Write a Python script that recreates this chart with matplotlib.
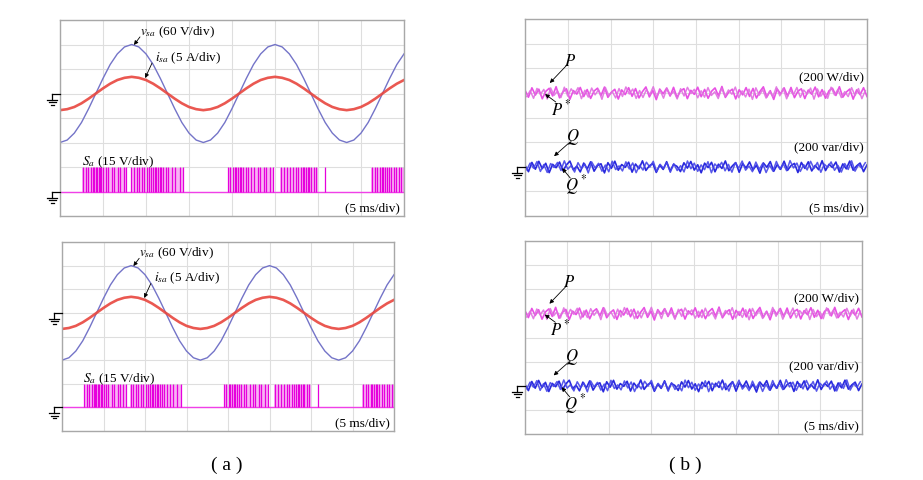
import matplotlib
matplotlib.use('Agg')
import matplotlib.pyplot as plt
import numpy as np
from matplotlib.lines import Line2D

plt.rcParams['font.family'] = ['Liberation Serif', 'DejaVu Serif']
plt.rcParams['mathtext.fontset'] = 'stix'

# ---- data read off the scope screens (time in ms, 5 ms/div) ----
# source voltage (V), 60 V/div, one sample every 5/6 ms
v_sa = [-120, -114, -97, -71, -37, 0, 37, 71, 97, 114,
        120, 114, 97, 71, 37, 0, -37, -71, -97, -114,
        -120, -114, -97, -71, -37, 0, 37, 71, 97, 114,
        120, 114, 97, 71, 37, 0, -37, -71, -97, -114,
        -120, -114, -97, -71, -37, 0, 37, 71, 97]
# source current (A), 5 A/div
i_sa = [-3.4, -3.2, -2.75, -2.0, -1.05, 0, 1.05, 2.0, 2.75, 3.2,
        3.4, 3.2, 2.75, 2.0, 1.05, 0, -1.05, -2.0, -2.75, -3.2,
        -3.4, -3.2, -2.75, -2.0, -1.05, 0, 1.05, 2.0, 2.75, 3.2,
        3.4, 3.2, 2.75, 2.0, 1.05, 0, -1.05, -2.0, -2.75, -3.2,
        -3.4, -3.2, -2.75, -2.0, -1.05, 0, 1.05, 2.0, 2.75]

# switching signal S_a (15 V/div): shaded switching intervals and pulse edges (ms)
sa_level = 15
sa_spans = [(2.6, 7.8), (8.2, 14.3), (19.5, 24.9), (25.6, 30.0), (36.2, 40.0)]
sa_pulses = [2.7, 3.0, 3.3, 3.6, 3.8, 4.0, 4.15, 4.3, 4.5, 4.65, 4.8, 5.0, 5.3,
             5.6, 6.0, 6.3, 6.7, 7.0, 7.4, 7.7, 8.3, 8.6, 8.9, 9.2, 9.5, 9.8,
             10.1, 10.4, 10.6, 10.8, 11.0, 11.2, 11.4, 11.6, 11.8, 12.0, 12.3,
             12.6, 13.0, 13.4, 13.9, 14.3,
             19.5, 19.8, 20.1, 20.3, 20.5, 20.7, 20.9, 21.1, 21.3, 21.6, 21.9,
             22.2, 22.6, 23.0, 23.3, 23.7, 24.0, 24.4, 24.8, 25.7, 26.0, 26.4,
             26.8, 27.1, 27.4, 27.7, 28.0, 28.2, 28.4, 28.6, 28.8, 29.0, 29.2,
             29.5, 29.8, 30.8,
             36.3, 36.6, 36.9, 37.2, 37.4, 37.6, 37.8, 38.0, 38.2, 38.5, 38.8,
             39.1, 39.4, 39.7, 40.0]

# active / reactive power (W, var), 200 per div
p_avg = 600
q_avg = 0
p_meas = [22, -35, 41, -18, 30, -48, 12, 37, -25, 50, -40, 8, 33, -52, 19, -10, 44, -30, 27, -45,
          15, 38, -22, 47, -36, 5, 29, -50, 24, -14, 42, -28, 35, -41, 10, 48, -33, 20, -55, 31,
          -8, 39, -26, 45, -38, 16, 34, -47, 21, -12, 46, -31, 28, -44, 13, 40, -24, 52, -37, 7,
          30, -49, 25, -16, 43, -29, 36, -42, 11, 49, -34, 18, -53, 32, -9, 41, -27, 44, -39, 14,
          33, -46, 23, -11, 47, -32, 26, -43, 17, 38, -21, 50, -35, 6, 31, -51, 24, -15, 42, -30]
p_ref = [-30, 18, -44, 36, -12, 28, -50, 40, -20, 15, -38, 46, -26, 33, -8, 42, -47, 21, -34, 39,
         -16, 25, -52, 44, -23, 11, -41, 35, -29, 48, -9, 31, -45, 19, -37, 27, -14, 50, -32, 22,
         -43, 38, -18, 13, -49, 34, -25, 45, -6, 29, -40, 17, -35, 43, -21, 9, -46, 37, -28, 24,
         -11, 47, -39, 16, -33, 30, -53, 41, -19, 26, -42, 12, -31, 49, -24, 36, -48, 20, -15, 44,
         -36, 23, -10, 39, -51, 32, -27, 14, -44, 46, -17, 28, -38, 10, -30, 42, -22, 35, -47, 18]
q_meas = [12, -40, 35, -20, 44, -15, 28, -48, 20, -8, 38, -33, 15, 46, -25, 5, -42, 30, -18, 40,
          -36, 10, 24, -50, 33, -12, 45, -28, 18, -5, 37, -44, 22, -16, 48, -30, 8, 26, -46, 14,
          -22, 41, -35, 19, 3, -39, 32, -11, 43, -27, 16, -49, 29, -7, 36, -41, 21, -14, 47, -32,
          6, 34, -45, 25, -10, 39, -26, 13, -52, 31, -4, 42, -37, 17, -21, 45, -29, 9, 27, -47,
          35, -13, 40, -34, 11, -24, 49, -31, 20, -6, 38, -43, 23, -17, 46, -28, 7, 30, -40, 15]
q_ref = [-25, 30, -12, 42, -38, 18, -46, 26, -6, 35, -30, 48, -20, 10, -43, 33, -15, 22, -50, 39,
         -9, 28, -36, 14, -41, 45, -23, 7, -34, 40, -18, 31, -48, 12, -27, 37, -3, 44, -39, 20,
         -13, 34, -45, 25, -31, 9, -42, 47, -16, 29, -37, 15, -24, 41, -49, 23, -8, 36, -33, 19,
         -44, 32, -11, 46, -28, 6, -40, 38, -21, 27, -47, 13, -35, 43, -19, 24, -32, 50, -10, 30,
         -38, 17, -26, 44, -14, 35, -45, 21, -5, 39, -29, 11, -43, 26, -22, 48, -36, 16, -12, 33]

W, H = 923, 481
fig = plt.figure(figsize=(W / 100, H / 100), dpi=100)


def add_scope(left, top, right, bottom):
    ax = fig.add_axes([left / W, 1 - bottom / H, (right - left) / W, (bottom - top) / H])
    ax.set_xlim(0, 40)
    ax.set_ylim(0, 8)
    ax.set_xticks(np.arange(0, 41, 5))
    ax.set_yticks(np.arange(0, 9, 1))
    ax.tick_params(length=0, labelbottom=False, labelleft=False)
    ax.grid(True, color='#dedede', lw=0.8)
    for s in ax.spines.values():
        s.set_color('#a8a8a8')
        s.set_linewidth(1.0)
    ax.pos_px = (left, top, right, bottom)
    return ax


def ground(ax, ydiv):
    left, top, right, bottom = ax.pos_px
    yg = top + (8 - ydiv) * (bottom - top) / 8
    xc = left - 8
    segs = [((left, yg), (xc, yg)), ((xc, yg), (xc, yg + 6)),
            ((xc - 5, yg + 6), (xc + 5, yg + 6)),
            ((xc - 3.5, yg + 8.5), (xc + 3.5, yg + 8.5)),
            ((xc - 1.5, yg + 11), (xc + 1.5, yg + 11))]
    for (x0, y0), (x1, y1) in segs:
        fig.add_artist(Line2D([x0 / W, x1 / W], [1 - y0 / H, 1 - y1 / H],
                              transform=fig.transFigure, color='k', lw=0.9))


def arrow(ax, tail, tip):
    ax.annotate('', xy=(tip[0] * 5, tip[1]), xytext=(tail[0] * 5, tail[1]),
                arrowprops=dict(arrowstyle='-|>', lw=0.6, color='k', mutation_scale=6,
                                shrinkA=0, shrinkB=0))


t_sine = np.linspace(0, 40, len(v_sa))
t_p = np.linspace(0, 40, len(p_meas))
t_p2 = np.linspace(0.2, 39.8, len(p_ref))


def panel_a(ax):
    ax.plot(t_sine, 5 + np.array(v_sa) / 60, color='#7474c8', lw=1.0)
    ax.plot(t_sine, 5 + np.array(i_sa) / 5, color='#e8463e', lw=1.9, alpha=0.9)
    ax.axhline(1, color='#f040e8', lw=1.0)
    for a, b in sa_spans:
        ax.fill_between([a, b], 1, 1 + sa_level / 15, color='#f8b2f4', lw=0)
    ax.vlines(sa_pulses, 1, 1 + sa_level / 15, color='#e600dc', lw=0.9)
    ax.text(1.86 * 5, 7.55, r'$v_{sa}$ (60 V/div)', fontsize=9.5, va='center')
    arrow(ax, (1.86, 7.31), (1.72, 6.98))
    ax.text(2.21 * 5, 6.49, r'$i_{sa}$ (5 A/div)', fontsize=9.5, va='center')
    arrow(ax, (2.14, 6.24), (1.98, 5.63))
    ax.text(0.51 * 5, 2.24, r'$S_a$ (15 V/div)', fontsize=9.5, va='center')
    ax.text(7.9 * 5, 0.37, '(5 ms/div)', fontsize=9.5, va='center', ha='right')
    ground(ax, 5)
    ground(ax, 1)


def panel_b(ax):
    ax.plot(t_p, 2 + (p_avg + np.array(p_meas)) / 200, color='#e850e4', lw=1.2)
    ax.plot(t_p2, 2 + (p_avg + np.array(p_ref)) / 200, color='#e070e0', lw=1.1, alpha=0.9)
    ax.plot(t_p, 2 + (q_avg + np.array(q_meas)) / 200, color='#2828dc', lw=1.2)
    ax.plot(t_p2, 2 + (q_avg + np.array(q_ref)) / 200, color='#4646e8', lw=1.1, alpha=0.9)
    ax.text(1.05 * 5, 6.29, r'$P$', fontsize=12, ha='center', va='center')
    arrow(ax, (0.98, 6.13), (0.58, 5.4))
    ax.text(0.85 * 5, 4.38, r'$P^*$', fontsize=12, ha='center', va='center')
    arrow(ax, (0.72, 4.63), (0.47, 4.95))
    ax.text(1.12 * 5, 3.24, r'$Q$', fontsize=12, ha='center', va='center')
    arrow(ax, (1.05, 3.0), (0.68, 2.43))
    ax.text(1.2 * 5, 1.3, r'$Q^*$', fontsize=12, ha='center', va='center')
    arrow(ax, (1.06, 1.54), (0.87, 1.94))
    ax.text(7.93 * 5, 5.68, '(200 W/div)', fontsize=9.5, va='center', ha='right')
    ax.text(7.93 * 5, 2.84, '(200 var/div)', fontsize=9.5, va='center', ha='right')
    ax.text(7.93 * 5, 0.36, '(5 ms/div)', fontsize=9.5, va='center', ha='right')
    ground(ax, 2)


panel_a(add_scope(60, 21, 404, 217))
panel_a(add_scope(62, 243, 394, 432))
panel_b(add_scope(525, 20, 867, 217))
panel_b(add_scope(525, 242, 862, 435))

fig.text(227 / W, 1 - 465 / H, '( a )', fontsize=14, ha='center', va='center')
fig.text(685 / W, 1 - 465 / H, '( b )', fontsize=14, ha='center', va='center')

fig.savefig('out.png', dpi=100)
